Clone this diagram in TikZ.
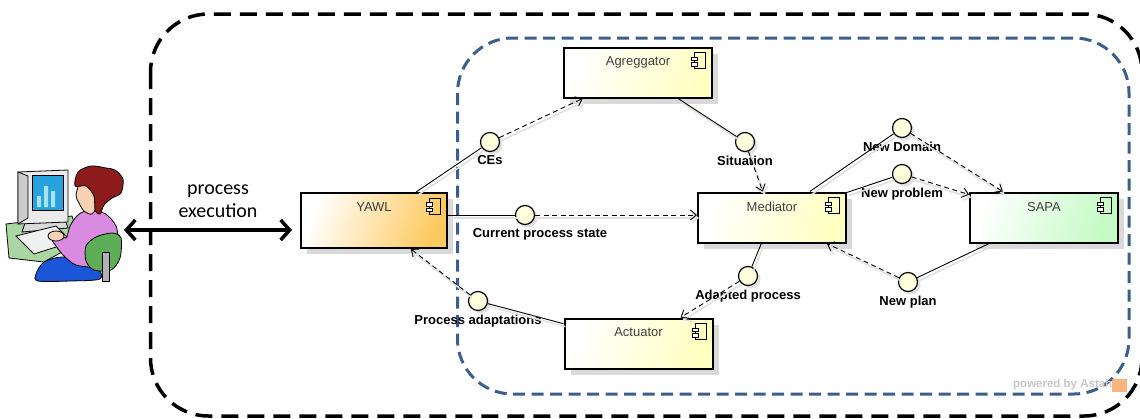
\documentclass[tikz,border=0pt]{standalone}
\usepackage{fontspec}
\setmainfont{Liberation Sans}
\newfontfamily\calibri{Carlito}
\usetikzlibrary{arrows.meta,shadows}

\definecolor{compyellow}{HTML}{FFFFC2}
\definecolor{comporange}{HTML}{FDC95E}
\definecolor{compgreen}{HTML}{C4FAC4}
\definecolor{ifaceyellow}{HTML}{FFFFDD}
\definecolor{frameblue}{HTML}{3B5E8C}
\definecolor{deskgreen}{HTML}{A9D6A1}
\definecolor{screenblue}{HTML}{27A2DC}
\definecolor{barblue}{HTML}{A6E3F7}
\definecolor{shirtpurple}{HTML}{D98BE2}
\definecolor{skin}{HTML}{F8D2B4}
\definecolor{hairred}{HTML}{8E1B1B}
\definecolor{chairgreen}{HTML}{5DAE57}
\definecolor{skirtblue}{HTML}{1B55D8}
\definecolor{astahorange}{HTML}{F7A35C}

\tikzset{
  comp/.style={draw=black, line width=2pt, inner sep=0pt,
    minimum width=148pt, minimum height=50pt,
    left color=white, right color=#1, shading angle=70,
    drop shadow={shadow xshift=6pt, shadow yshift=-6pt, fill=black!15, opacity=1}},
  comp/.default=compyellow,
  compname/.style={anchor=north, yshift=-7pt, text=black!75, font=\fontsize{13}{15}\selectfont},
  iface/.style={circle, draw=black, line width=1.2pt, fill=ifaceyellow,
    minimum size=19pt, inner sep=0pt, label distance=4pt,
    drop shadow={shadow xshift=3pt, shadow yshift=-3pt, fill=black!12, opacity=1}},
  ifname/.style={font=\bfseries\fontsize{13}{15}\selectfont},
  ghost/.style={preaction={draw=black!12, solid, line width=1.6pt,
    transform canvas={shift={(2pt,-3pt)}}}},
  provide/.style={draw, line width=0.9pt, ghost},
  require/.style={draw, line width=0.9pt, dash pattern=on 5pt off 3.5pt,
    -{Straight Barb[length=6pt,width=10pt]}, ghost},
}

% little component symbol in the top right corner of a box
\newcommand{\compicon}[1]{%
  \begin{scope}[shift={(#1.north east)}, line width=0.8pt]
    \draw (-18.5,6) rectangle (-7.5,22);
    \draw[fill=white] (-21.5,10.5) rectangle (-15.5,14);
    \draw[fill=white] (-21.5,16) rectangle (-15.5,19.5);
  \end{scope}}

\begin{document}
\begin{tikzpicture}[x=1pt, y=-1pt]
  \useasboundingbox (0,0) rectangle (1140,418);

  % system boundaries
  \draw[line width=3.5pt, dash pattern=on 17pt off 9pt, rounded corners=58pt] (150.5,14) rectangle (1142,416);
  \draw[frameblue, line width=3pt, dash pattern=on 12pt off 6.5pt, rounded corners=55pt] (457.5,38) rectangle (1129,394);

  % user at the workstation
  \begin{scope}[line width=0.8pt]
    \filldraw[fill=deskgreen] (6,224) -- (72,216) -- (80,242) -- (44,262) -- (9,258) -- cycle;
    \filldraw[fill=black!15] (26,220) -- (64,216) -- (68,228) -- (22,232) -- cycle;
    \filldraw[fill=black!8] (18,172) -- (68,170) -- (68,222) -- (18,224) -- cycle;
    \filldraw[fill=black!20] (18,172) -- (28,176) -- (28,218) -- (18,224) -- cycle;
    \filldraw[fill=screenblue] (32,175) rectangle (63,210);
    \fill[barblue] (37,207) rectangle (41,196) (44,207) rectangle (48,186) (51,207) rectangle (55,191);
    \filldraw[fill=black!6] (16,236) -- (56,226) -- (72,242) -- (34,254) -- cycle;
    \filldraw[fill=skirtblue] plot[smooth cycle] coordinates {(36,274) (44,262) (62,257) (84,261) (98,268) (100,279) (70,281) (38,281)};
    \filldraw[fill=shirtpurple] plot[smooth cycle] coordinates {(86,211) (104,213) (116,226) (118,246) (113,262) (96,267) (76,265) (64,256) (56,246) (52,239) (58,233) (66,238) (70,226) (77,216)};
    \filldraw[fill=chairgreen] plot[smooth cycle] coordinates {(86,246) (96,237) (112,233) (121,238) (120,258) (111,270) (94,270) (86,261)};
    \filldraw[fill=black!30] (102,252) rectangle (109,281);
    \filldraw[fill=skin] (56,236) ellipse (8 and 5);
    \filldraw[fill=skin] plot[smooth cycle] coordinates {(81,180) (76,195) (79,203) (84,211) (92,214) (97,204) (93,188) (88,180)};
    \filldraw[fill=hairred] plot[smooth cycle] coordinates {(75,186) (78,172) (91,166) (106,168) (115,170) (123,179) (121,193) (112,198) (104,205) (100,214) (95,210) (94,196) (86,186)};
  \end{scope}

  % components
  \node[comp=comporange, minimum width=146pt, minimum height=55pt, label={[compname]north:YAWL}] (yawl) at (374,220.5) {};
  \node[comp, label={[compname]north:Agreggator}] (agg) at (638,72.5) {};
  \node[comp, label={[compname]north:Mediator}] (med) at (772,217.5) {};
  \node[comp=compgreen, label={[compname]north:SAPA}] (sapa) at (1044,217.5) {};
  \node[comp, label={[compname]north:Actuator}] (act) at (638.5,343.5) {};
  \compicon{yawl}
  \compicon{agg}
  \compicon{med}
  \compicon{sapa}
  \compicon{act}

  % interfaces
  \node[iface, label={[ifname]below:CEs}] (ces) at (490,142) {};
  \node[iface, label={[ifname]below:Situation}] (sit) at (745,142) {};
  \node[iface, label={[ifname, xshift=15pt]below:Current process state}] (cps) at (525,215) {};
  \node[iface, label={[ifname]below:New Domain}] (dom) at (902,128) {};
  \node[iface, label={[ifname]below:New problem}] (prob) at (902,174) {};
  \node[iface, label={[ifname]below:Adapted process}] (adp) at (748,276) {};
  \node[iface, label={[ifname]below:New plan}] (plan) at (908,282) {};
  \node[iface, label={[ifname]below:Process adaptations}] (padp) at (478,301) {};

  \path (yawl) edge[provide] (ces);
  \path (ces) edge[require] (agg);
  \path (agg) edge[provide] (sit);
  \path (sit) edge[require] (med);
  \path (yawl.east |- cps) edge[provide] (cps);
  \path (cps) edge[require] (med.west |- cps);
  \path (med) edge[provide] (dom);
  \path (dom) edge[require] (sapa);
  \path (med) edge[provide] (prob);
  \path (prob) edge[require] (sapa);
  \path (sapa) edge[provide] (plan);
  \path (plan) edge[require] (med);
  \path (med) edge[provide] (adp);
  \path (adp) edge[require] (act);
  \path (act) edge[provide] (padp);
  \path (padp) edge[require] (yawl);

  % process execution
  \coordinate (user) at (124,230);
  \coordinate (run) at (292,230);
  \draw[line width=3.5pt, {Straight Barb[length=9pt,width=20pt]}-{Straight Barb[length=9pt,width=20pt]}] (user) -- (run);
  \node[font=\calibri\fontsize{20}{23}\selectfont, align=center] (exec) at (218,201) {process\\execution};

  % tool watermark
  \node[anchor=west, text=black!22, font=\bfseries\fontsize{11.5}{13}\selectfont, inner sep=0pt] (astah) at (1013,385) {powered by Astah};
  \fill[astahorange, opacity=0.8] (1112,379) rectangle (1127,392);
\end{tikzpicture}
\end{document}
